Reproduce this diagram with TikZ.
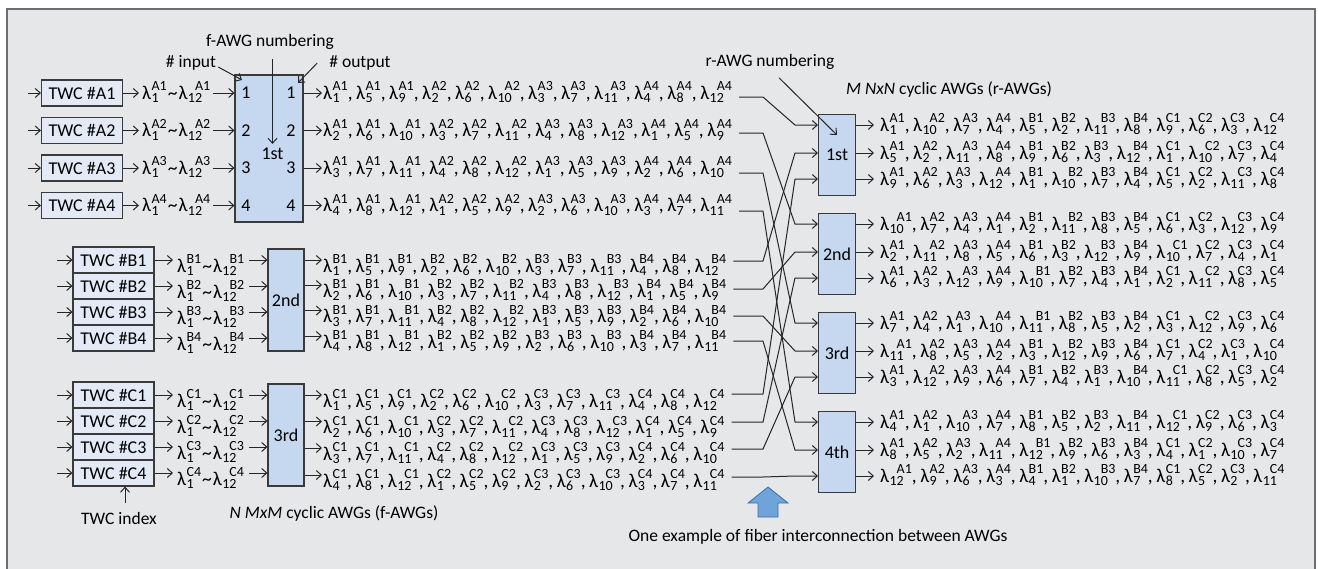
\documentclass[tikz,border=0pt]{standalone}
\usepackage{fontspec}
\setmainfont{Carlito}
\usetikzlibrary{arrows.meta}
\definecolor{bg}{HTML}{E6E7E9}
\definecolor{framegray}{HTML}{6D6E71}
\definecolor{twcfill}{HTML}{E3EAF6}
\definecolor{awgfill}{HTML}{C5D8EF}
\definecolor{edge}{HTML}{3A3A3A}
\definecolor{bluearr}{HTML}{6FA3D9}
\definecolor{bluedge}{HTML}{3F6FA8}
\newcommand\scr{\fontsize{14}{15}\selectfont}
\newcommand\lmsize{\fontsize{19.5}{21}\selectfont}
\newcommand\lm[2]{λ\kern0.4pt\rlap{\raisebox{-3.5pt}{\scr #1}}\raisebox{8.5pt}{\scr\ifnum#1>9 \hphantom{1}\fi #2}}
\newcommand\lsep{,\hspace{3.5pt}}
\newcommand\rng[1]{\lm{1}{#1}\kern1pt\textasciitilde\kern1pt\lm{12}{#1}}
\newcommand\flist[2]{\foreach \fgi in {1,...,4}{\foreach \fmi in {0,1,2}{\pgfmathtruncatemacro\fsub{mod(#2+\fgi-2,4)+1+4*\fmi}\ifnum\fgi\fmi=10 \else\lsep\fi\lm{\fsub}{#1\fgi}}}}
\newcommand\rlist[2]{\foreach \rqi/\rG in {0/A,1/B,2/C}{\foreach \rni in {1,...,4}{\pgfmathtruncatemacro\rsub{mod(48-3*(#1-1)+4*(#2-1)+4*\rqi-3*(\rni-1),12)+1}\ifnum\rqi\rni=1 \else\lsep\fi\lm{\rsub}{\rG\rni}}}}
\begin{document}
\begin{tikzpicture}[x=1pt,y=-1pt,
  >={Straight Barb[length=5pt,width=9pt]},
  wire/.style={line width=1pt,draw=black!85},
  arr/.style={wire,->},
  twc/.style={draw=edge,fill=twcfill,line width=1.1pt,minimum width=81pt,minimum height=26pt,inner sep=0pt,font=\fontsize{18}{20}\selectfont},
  awg/.style={draw=edge,fill=awgfill,line width=1.1pt,inner sep=0pt,font=\fontsize{18}{20}\selectfont},
  lst/.style={anchor=base west,inner sep=0pt,font=\lmsize},
  lbl/.style={inner sep=0pt,font=\fontsize{17.5}{20}\selectfont},
  num/.style={inner sep=0pt,font=\fontsize{18}{20}\selectfont}]
\useasboundingbox (0,0) rectangle (1318,568);
\fill[white] (0,0) rectangle (1318,568);
\draw[draw=framegray,fill=bg,line width=1.3pt] (7,9) rectangle (1315,590);

% ---------- first f-AWG (A) ----------
\node[awg,minimum width=68pt,minimum height=147pt] (awgA) at (269,148.5) {};
\node[num] (awgAl) at (272.5,154) {1st};
\foreach \i/\y in {1/93,2/130.5,3/168,4/205.5}{
  \coordinate (sA\i) at (28,\y);
  \node[twc] (twcA\i) at (82,\y) {TWC \#A\i};
  \draw[arr] (sA\i) -- (twcA\i);
  \node[lst] (rA\i) at (142,\y+6) {\rng{A\i}};
  \draw[arr] (twcA\i) -- ([xshift=-3pt]rA\i.west |- twcA\i);
  \draw[arr] ([xshift=3pt]rA\i.east |- twcA\i) -- (awgA.west |- twcA\i);
  \node[num] (niA\i) at (246,\y) {\i};
  \node[num] (noA\i) at (291,\y) {\i};
  \node[lst] (oA\i) at (323,\y+6) {\flist{A}{\i}};
  \draw[arr] (awgA.east |- twcA\i) -- ([xshift=-1pt]oA\i.west |- twcA\i);
}

% ---------- second f-AWG (B) ----------
\node[awg,minimum width=36pt,minimum height=102pt] (awgB) at (286,300) {2nd};
\foreach \i/\y in {1/260,2/286,3/312,4/338}{
  \coordinate (sB\i) at (57,\y);
  \node[twc] (twcB\i) at (113.5,\y) {TWC \#B\i};
  \draw[arr] (sB\i) -- (twcB\i);
  \node[lst] (rB\i) at (177,\y+12) {\rng{B\i}};
  \draw[arr] (twcB\i) -- ([xshift=-4pt]rB\i.west |- twcB\i);
  \draw[arr] ([xshift=5pt]rB\i.east |- twcB\i) -- (awgB.west |- twcB\i);
}
\foreach \i/\y in {1/260,2/285,3/310.5,4/336}{
  \coordinate (pB\i) at (0,\y);
  \node[lst] (oB\i) at (323,\y+12) {\flist{B}{\i}};
  \draw[arr] (awgB.east |- pB\i) -- ([xshift=-1pt]oB\i.west |- pB\i);
}

% ---------- third f-AWG (C) ----------
\node[awg,minimum width=36pt,minimum height=102pt] (awgC) at (286,435) {3rd};
\foreach \i/\y in {1/395,2/421,3/447,4/473}{
  \coordinate (sC\i) at (57,\y);
  \node[twc] (twcC\i) at (113.5,\y) {TWC \#C\i};
  \draw[arr] (sC\i) -- (twcC\i);
  \node[lst] (rC\i) at (177,\y+12) {\rng{C\i}};
  \draw[arr] (twcC\i) -- ([xshift=-4pt]rC\i.west |- twcC\i);
  \draw[arr] ([xshift=5pt]rC\i.east |- twcC\i) -- (awgC.west |- twcC\i);
}
\foreach \i/\y in {1/395,2/421.5,3/448,4/475}{
  \coordinate (pC\i) at (0,\y);
  \node[lst] (oC\i) at (323,\y+12) {\flist{C}{\i}};
  \draw[arr] (awgC.east |- pC\i) -- ([xshift=-1pt]oC\i.west |- pC\i);
}

% ---------- r-AWGs ----------
\foreach \rr/\tp/\lab in {1/114/1st,2/213/2nd,3/312/3rd,4/411/4th}{
  \node[awg,minimum width=37pt,minimum height=81pt,anchor=north west] (R\rr) at (818,\tp) {\lab};
  \foreach \pp/\dd in {1/11,2/39,3/65}{
    \coordinate (in\rr\pp) at (818,\tp+\dd);
    \node[lst] (ro\rr\pp) at (880,\tp+\dd+6) {\rlist{\rr}{\pp}};
    \draw[arr] (R\rr.east |- in\rr\pp) -- ([xshift=-6pt]ro\rr\pp.west |- in\rr\pp);
  }
}

% ---------- fibre interconnection ----------
\foreach \src/\ly/\dst in {oA1/97/in11,oA2/133/in21,oA3/173/in31,oA4/211/in41,
  oB1/261/in12,oB2/289/in22,oB3/316/in32,oB4/341/in42,
  oC1/394/in13,oC2/422/in23,oC3/449/in33,oC4/477/in43}{
  \coordinate (ly) at (0,\ly);
  \draw[arr] (\src.east |- ly) ++(7,0) -- (763,\ly) -- ([xshift=-23pt]\dst) -- (\dst);
}

% ---------- labels ----------
\node[lbl] (fnum) at (270,42) {f-AWG numbering};
\draw[arr] (awgAl.north |- fnum.south) ++(0,9) -- ([yshift=4pt]awgAl.north);
\node[lbl] (inl) at (191,63) {\# input};
\coordinate (inptr) at (242,80);
\draw[arr] ([shift={(2pt,-4pt)}]inl.east) -- (inptr);
\node[lbl] (outl) at (360,63) {\# output};
\coordinate (outptr) at (298,83);
\draw[arr] ([xshift=-12pt]outl.west) -- (outptr);
\node[lbl] (rnum) at (770,62) {r-AWG numbering};
\coordinate (rptr) at (837,135);
\draw[arr] ([shift={(9pt,-8pt)}]rnum.south) -- (rptr);
\node[lbl] (rcap) at (949,90) {\textit{M NxN} cyclic AWGs (r-AWGs)};
\node[lbl] (fcap) at (334,514) {\textit{N MxM} cyclic AWGs (f-AWGs)};
\node[lbl] (idx) at (119,518) {TWC index};
\coordinate (idxp) at (125,503);
\draw[arr] (idxp) -- (idxp |- twcC4.south);
\draw[fill=bluearr,draw=bluedge,line width=0.8pt] (758,517) -- (778,517) -- (778,503) -- (788,503) -- (768,487) -- (748,503) -- (758,503) -- cycle;
\node[lbl] (ex) at (818,537) {One example of fiber interconnection between AWGs};
\end{tikzpicture}
\end{document}
